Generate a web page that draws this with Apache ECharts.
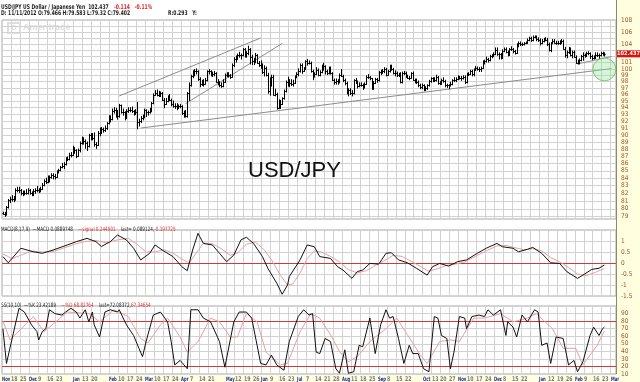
<!DOCTYPE html>
<html><head><meta charset="utf-8">
<script src="https://cdn.jsdelivr.net/npm/echarts/dist/echarts.min.js"></script>
<style>html,body{margin:0;padding:0;background:#fff}#c{width:640px;height:382px}</style>
</head><body><div id="c"></div>
<script>
// ---------- DATA ----------
const firstTradingDay = '2012-11-12';
const slotCount = 343; // weekday slots on the x axis (data + a few empty days)
const weekLabels = ['Nov','18','25','Dec','9','16','23','','Jan','13','20','','Feb','10','17','24','Mar','10','17','24','Apr','7','14','21','','May','12','19','26','Jun','9','16','23','Jul','7','14','21','28','Aug','11','18','25','Sep','8','15','22','','Oct','13','20','27','Nov','10','17','24','Dec','8','15','22','','Jan','12','19','26','Feb','9','16','23','Mar'];
// daily bars [open, high, low, close]
const ohlc = [
[79.47,79.58,79.32,79.40],[79.40,79.55,79.05,79.30],[79.30,80.30,79.20,80.20],[80.20,81.20,80.10,81.10],[81.10,81.50,80.80,81.30],
[81.3,81.7,81.0,81.3],[81.3,81.6,80.9,81.2],[81.2,82.6,81.1,82.4],[82.4,82.8,82.2,82.5],[82.5,82.8,82.1,82.4],
[82.4,82.5,81.8,82.1],[82.1,82.3,81.7,82.0],[82.0,82.3,81.8,82.1],[82.1,82.5,81.9,82.1],[82.1,82.6,81.9,82.4],
[82.4,82.5,81.9,82.0],[82.0,82.2,81.7,81.8],[81.8,82.5,81.7,82.3],[82.3,82.6,82.0,82.4],[82.4,82.9,82.2,82.5],
[82.5,82.6,82.1,82.3],[82.3,82.8,82.2,82.6],[82.6,83.3,82.5,83.1],[83.1,83.8,83.0,83.6],[83.6,84.0,83.3,83.5],
[83.5,84.3,83.4,83.6],[83.6,84.3,83.5,84.2],[84.2,84.6,84.0,84.4],[84.4,84.6,83.9,84.3],[84.3,84.5,83.9,84.2],
[84.2,85.0,84.1,84.8],[84.8,85.2,84.7,85.1],[85.1,85.6,85.0,85.5],[85.5,86.0,85.4,85.6],[85.6,86.1,85.3,85.9],
[85.9,86.8,85.8,86.7],[86.7,86.9,86.4,86.6],[86.6,87.4,86.5,87.2],[87.2,87.5,86.9,87.2],[87.2,88.4,87.1,88.1],
[88.1,88.2,87.4,87.8],[87.8,87.9,86.8,87.1],[87.1,88.0,87.0,87.8],[87.8,89.0,87.6,88.8],[88.8,89.7,88.7,89.2],
[89.2,89.6,88.7,89.1],[89.1,89.3,88.1,88.8],[88.8,89.0,87.8,88.4],[88.4,90.1,88.3,90.0],[90.0,90.2,89.3,90.1],
[90.1,90.2,89.3,89.6],[89.6,90.3,88.4,88.7],[88.7,88.9,88.1,88.6],[88.6,90.5,88.5,90.3],[90.3,91.0,89.9,90.8],
[90.8,91.1,90.2,90.8],[90.8,91.0,90.4,90.7],[90.7,91.3,90.5,91.0],[91.0,91.8,90.8,91.7],[91.7,92.8,91.6,92.7],
[92.7,92.8,91.9,92.3],[92.3,93.8,92.2,93.5],[93.5,94.0,93.2,93.6],[93.6,93.9,92.6,93.6],[93.6,93.6,92.3,92.7],
[92.7,94.5,92.6,94.4],[94.4,94.4,93.2,93.4],[93.4,93.8,92.9,93.3],[93.3,93.4,92.2,92.6],[92.6,93.7,92.4,93.5],
[93.5,94.0,93.3,93.6],[93.6,94.0,93.4,93.6],[93.6,94.1,93.3,93.5],[93.5,93.6,92.9,93.2],[93.2,93.7,93.0,93.4],
[93.4,94.8,90.9,91.9],[91.9,92.3,91.3,92.1],[92.1,92.7,91.8,92.4],[92.4,92.9,92.2,92.6],[92.6,93.8,92.5,93.6],
[93.6,93.7,92.7,93.4],[93.4,93.5,92.9,93.3],[93.3,93.9,93.2,93.5],[93.5,94.8,93.4,94.7],[94.7,96.1,94.6,96.0],
[96.0,96.6,95.9,96.3],[96.3,96.7,95.8,96.0],[96.0,96.5,95.7,96.1],[96.1,96.4,95.7,96.2],[96.2,96.3,95.1,95.2],
[95.2,95.4,94.0,94.6],[94.6,95.4,94.5,95.0],[95.0,95.8,94.9,95.6],[95.6,96.0,95.1,95.2],[95.2,95.3,94.3,94.5],
[94.5,95.0,94.1,94.2],[94.2,94.6,93.9,94.3],[94.3,94.6,93.7,94.0],[94.0,94.4,93.9,94.3],[94.3,94.5,94.0,94.2],
[94.2,94.3,93.0,93.2],[93.2,93.5,92.6,93.3],[93.3,93.6,92.6,92.8],[92.8,96.3,92.6,96.3],[96.3,97.8,95.1,97.5],
[97.5,99.0,97.3,98.9],[98.9,99.7,98.6,99.1],[99.1,99.9,98.9,99.7],[99.7,100.0,99.2,99.6],[99.6,99.7,98.2,98.4],
[98.4,98.6,97.2,97.6],[97.6,98.2,97.4,97.7],[97.7,98.3,97.3,97.7],[97.7,98.5,97.6,98.2],[98.2,99.7,98.1,99.6],
[99.6,99.9,99.2,99.6],[99.6,99.7,98.9,99.2],[99.2,99.5,98.8,99.2],[99.2,99.6,98.9,99.3],[99.3,99.4,97.9,98.0],
[98.0,98.3,97.5,97.8],[97.8,98.0,97.2,97.4],[97.4,97.8,97.1,97.3],[97.3,98.3,97.2,98.0],[98.0,99.2,97.9,99.0],
[99.0,99.4,98.8,99.2],[99.2,99.4,98.7,99.0],[99.0,99.1,98.5,98.8],[98.8,100.8,98.7,100.6],[100.6,101.8,100.4,101.6],
[101.6,102.1,101.1,101.8],[101.8,102.4,101.5,102.3],[102.3,102.7,101.9,102.2],[102.2,102.4,101.6,102.3],[102.3,103.3,102.1,103.2],
[103.2,103.3,101.9,102.3],[102.3,102.8,101.9,102.5],[102.5,103.7,102.3,103.2],[103.2,103.3,100.8,102.0],[102.0,102.2,100.7,101.2],
[101.2,101.7,100.7,101.3],[101.3,102.5,101.0,102.2],[102.2,102.3,100.9,101.0],[101.0,101.2,100.4,100.7],[100.7,101.3,100.1,100.5],
[100.5,100.8,99.3,99.5],[99.5,100.5,98.9,100.1],[100.1,100.3,98.9,99.1],[99.1,99.3,96.2,96.5],[96.5,98.6,95.9,97.5],
[97.5,99.0,97.3,98.7],[98.7,99.0,95.9,96.0],[96.0,96.8,95.8,96.1],[96.1,96.2,93.8,94.0],[94.0,95.2,93.9,94.1],
[94.1,95.1,93.9,94.6],[94.6,95.5,94.5,95.4],[95.4,96.7,95.3,96.6],[96.6,98.1,96.4,97.9],[97.9,98.7,97.3,97.9],
[97.9,98.3,97.2,97.8],[97.8,98.3,97.4,97.6],[97.6,98.2,97.3,97.8],[97.8,98.9,97.7,98.8],[98.8,99.4,98.6,99.2],
[99.2,100.0,98.9,99.6],[99.6,100.8,99.5,100.7],[100.7,100.8,99.3,99.7],[99.7,100.2,99.6,100.1],[100.1,101.3,99.9,101.2],
[101.2,101.5,100.6,100.9],[100.9,101.3,100.8,101.0],[101.0,101.1,99.5,99.6],[99.6,99.8,98.3,98.9],[98.9,99.4,98.7,99.2],
[99.2,100.2,99.1,99.9],[99.9,100.0,98.9,99.1],[99.1,99.7,98.9,99.5],[99.5,100.6,99.4,100.5],[100.5,100.9,99.8,100.5],
[100.5,100.5,99.2,99.6],[99.6,99.8,99.1,99.4],[99.4,100.3,99.2,100.2],[100.2,100.3,99.2,99.3],[99.3,99.4,98.2,98.3],
[98.3,98.4,97.6,97.9],[97.9,98.4,97.6,98.1],[98.1,98.3,97.6,97.9],[97.9,99.2,97.8,99.1],[99.1,99.9,98.8,98.9],
[98.9,99.0,98.0,98.2],[98.2,98.4,97.5,97.8],[97.8,97.9,96.1,96.3],[96.3,96.9,95.8,96.7],[96.7,96.9,96.0,96.2],
[96.2,96.6,95.8,96.2],[96.2,98.3,96.1,98.2],[98.2,98.5,97.7,98.1],[98.1,98.1,97.0,97.3],[97.3,97.8,97.2,97.5],
[97.5,97.8,97.3,97.5],[97.5,97.6,96.8,97.2],[97.2,97.8,97.0,97.7],[97.7,98.9,97.6,98.7],[98.7,99.1,98.5,98.7],
[98.7,98.8,98.3,98.5],[98.5,98.5,96.8,97.0],[97.0,98.0,96.8,97.8],[97.8,98.5,97.7,98.4],[98.4,98.5,97.9,98.2],
[98.2,99.6,98.1,99.5],[99.5,99.8,99.1,99.6],[99.6,99.9,99.3,99.6],[99.6,100.2,99.4,100.0],[100.0,100.1,98.9,99.1],
[99.1,99.8,99.0,99.6],[99.6,100.6,99.5,100.5],[100.5,100.6,99.8,100.0],[100.0,100.1,99.2,99.4],[99.4,99.7,98.9,99.3],
[99.3,99.5,98.8,99.0],[99.0,99.3,98.8,99.1],[99.1,99.4,97.8,97.9],[97.9,99.5,97.8,99.4],[99.4,99.6,99.1,99.4],
[99.4,99.5,98.7,98.8],[98.8,99.0,98.5,98.6],[98.6,98.8,98.3,98.6],[98.6,99.4,98.5,99.3],[99.3,99.5,98.2,98.3],
[98.3,98.4,97.8,98.2],[98.2,98.4,97.7,98.0],[98.0,98.1,97.2,97.5],[97.5,97.6,96.9,97.1],[97.1,97.6,96.9,97.5],
[97.5,97.5,96.6,96.9],[96.9,97.2,96.6,97.0],[97.0,97.5,96.8,97.4],[97.4,98.2,97.3,98.1],[98.1,98.6,97.9,98.5],
[98.5,98.6,98.0,98.4],[98.4,98.6,98.0,98.2],[98.2,99.0,98.1,98.7],[98.7,98.8,97.6,97.8],[97.8,98.0,97.6,97.7],
[97.7,98.4,97.6,98.2],[98.2,98.6,97.9,98.1],[98.1,98.2,97.2,97.4],[97.4,97.6,97.1,97.4],[97.4,97.5,96.9,97.4],
[97.4,97.9,97.3,97.6],[97.6,98.3,97.5,98.2],[98.2,98.6,98.0,98.3],[98.3,98.6,98.0,98.4],[98.4,98.9,98.3,98.7],
[98.7,98.8,98.4,98.6],[98.6,98.8,98.2,98.6],[98.6,98.9,98.4,98.7],[98.7,98.9,97.7,97.9],[97.9,99.3,97.8,99.1],
[99.1,99.4,99.0,99.2],[99.2,99.8,99.1,99.6],[99.6,99.8,98.9,99.2],[99.2,100.0,98.9,99.9],[99.9,100.4,99.8,100.2],
[100.2,100.3,99.8,100.0],[100.0,100.2,99.6,100.0],[100.0,100.3,99.6,100.2],[100.2,101.3,100.1,101.1],[101.1,101.4,100.8,101.3],
[101.3,101.9,101.1,101.6],[101.6,101.7,101.1,101.4],[101.4,102.2,101.3,102.1],[102.1,102.3,101.8,102.1],[102.1,102.6,102.0,102.4],
[102.4,103.4,102.3,103.0],[103.0,103.4,102.2,102.4],[102.4,102.6,101.6,102.4],[102.4,102.5,101.6,101.8],[101.8,103.1,101.7,102.9],
[102.9,103.4,102.8,103.2],[103.2,103.4,102.6,102.8],[102.8,102.9,102.1,102.3],[102.3,103.3,102.2,103.2],[103.2,103.6,103.0,103.2],
[103.2,103.3,102.6,102.9],[102.9,103.0,102.4,102.6],[102.6,104.1,102.5,103.9],[103.9,104.4,103.6,104.3],[104.3,104.4,103.8,104.1],
[104.1,104.2,103.8,104.0],[104.0,104.3,103.9,104.2],[104.2,104.4,104.1,104.3],[104.3,104.9,104.2,104.8],[104.8,105.2,104.6,105.1],
[105.1,105.2,104.5,104.7],[104.7,105.4,104.6,105.3],[105.3,105.4,105.1,105.2],[105.2,105.4,104.6,104.9],[104.9,105.1,104.5,104.8],
[104.8,104.9,103.9,104.2],[104.2,104.8,104.1,104.6],[104.6,105.0,104.4,104.9],[104.9,105.1,104.6,104.8],[104.8,105.0,103.8,104.1],
[104.1,104.2,102.9,103.0],[103.0,104.3,102.8,104.2],[104.2,104.8,104.1,104.6],[104.6,104.8,104.2,104.3],[104.3,104.5,104.0,104.3],
[104.3,104.5,104.0,104.2],[104.2,104.6,104.0,104.3],[104.3,104.8,104.2,104.6],[104.6,104.7,103.2,103.3],[103.3,103.5,101.9,102.3],
[102.3,102.9,101.8,102.7],[102.7,103.5,102.5,103.4],[103.4,103.4,102.1,102.3],[102.3,102.9,101.8,102.8],[102.8,102.9,101.9,102.0],
[102.0,102.1,100.9,101.0],[101.0,101.4,100.8,101.1],[101.1,101.6,100.8,101.4],[101.4,102.2,101.3,102.1],[102.1,102.6,101.4,102.3],
[102.3,102.4,101.9,102.2],[102.2,102.7,102.0,102.6],[102.6,102.8,102.3,102.5],[102.5,102.6,101.7,102.1],[102.1,102.2,101.5,101.8],
[101.8,102.1,101.6,101.8],[101.8,102.6,101.7,102.3],[102.3,102.6,102.0,102.3],[102.3,102.4,101.7,102.3],[102.3,102.7,102.1,102.5],
[102.5,102.7,102.2,102.5],[102.5,102.6,102.1,102.44]
];
// indicator readings [day index, value]
const macdLine = [[0,0.29],[3,0.01],[10,0.67],[17,0.51],[22,0.44],[28,0.59],[36,0.82],[41,0.97],[47,1.12],[52,0.97],[55,0.75],[60,0.97],[64,1.27],[69,1.05],[73,0.67],[77,0.14],[78,0.06],[82,0.44],[85,0.82],[89,0.59],[95,0.29],[100,-0.17],[103,-0.35],[106,0.59],[109,1.35],[112,0.89],[117,0.82],[121,0.44],[125,0.06],[129,0.36],[133,1.05],[136,1.17],[140,0.89],[145,0.29],[148,-0.24],[153,-0.92],[156,-1.42],[157,-1.5],[159,-1.0],[160,-0.62],[166,0.14],[170,0.82],[174,0.74],[177,0.29],[183,0.21],[187,-0.17],[190,-0.32],[195,-0.70],[198,-0.39],[201,-0.32],[205,-0.02],[210,-0.05],[214,0.44],[217,0.47],[221,0.14],[226,0.01],[231,-0.24],[237,-0.55],[240,-0.17],[244,-0.02],[249,-0.14],[254,0.06],[259,0.14],[265,0.44],[270,0.67],[276,0.89],[279,0.74],[285,0.67],[288,0.51],[293,0.62],[296,0.71],[301,0.44],[306,0.01],[311,-0.02],[315,-0.39],[321,-0.70],[324,-0.55],[329,-0.29],[333,-0.24],[336,-0.09]];
const macdSignal = [[0,0.42],[5,0.2],[10,0.35],[16,0.55],[22,0.5],[28,0.52],[34,0.68],[40,0.85],[46,0.98],[52,1.02],[58,0.92],[64,1.05],[70,1.12],[75,0.85],[80,0.5],[85,0.5],[90,0.6],[95,0.45],[100,0.18],[104,0.0],[108,0.45],[112,0.9],[117,0.88],[122,0.65],[127,0.35],[131,0.45],[136,0.85],[141,0.95],[146,0.6],[150,0.15],[155,-0.55],[159,-1.0],[162,-0.95],[166,-0.45],[170,0.2],[174,0.55],[178,0.5],[183,0.3],[188,0.05],[193,-0.3],[198,-0.45],[203,-0.35],[208,-0.12],[213,0.1],[218,0.35],[223,0.3],[228,0.08],[233,-0.15],[238,-0.38],[243,-0.25],[248,-0.1],[253,-0.05],[258,0.05],[264,0.3],[270,0.55],[276,0.78],[281,0.8],[286,0.7],[291,0.6],[296,0.65],[301,0.55],[306,0.25],[311,0.05],[316,-0.2],[321,-0.5],[326,-0.58],[331,-0.42],[336,-0.25]];
const stochK = [[0,70],[2,24],[9,97],[12,92],[16,75],[19,66],[20,55],[22,66],[24,70],[26,95],[29,90],[33,88],[35,92],[38,97],[41,92],[43,84],[46,95],[48,79],[50,92],[51,75],[54,59],[57,92],[60,95],[64,92],[65,95],[69,75],[73,61],[76,44],[78,33],[80,53],[84,88],[88,92],[92,79],[94,53],[96,22],[99,28],[103,17],[105,95],[109,95],[112,84],[116,79],[121,53],[124,19],[129,79],[132,92],[136,92],[139,84],[142,48],[144,24],[147,22],[150,35],[153,22],[157,15],[160,53],[165,86],[168,95],[171,88],[173,90],[175,39],[177,37],[180,57],[183,53],[186,17],[188,11],[191,42],[193,11],[196,13],[199,48],[201,46],[205,84],[208,37],[211,75],[214,95],[216,84],[218,86],[221,57],[224,24],[227,48],[229,37],[232,37],[235,17],[238,13],[241,86],[243,84],[245,61],[248,57],[250,17],[252,39],[255,86],[258,84],[259,70],[262,86],[266,88],[269,86],[271,95],[274,88],[278,95],[281,61],[282,79],[285,72],[287,59],[290,88],[293,79],[297,95],[299,92],[301,48],[304,51],[306,24],[309,59],[313,57],[316,22],[319,28],[321,13],[324,26],[328,61],[330,72],[333,61],[335,70],[336,72]];
const stochD = [[0,80],[4,55],[17,86],[23,66],[36,92],[48,90],[54,79],[62,95],[70,86],[77,57],[81,51],[88,75],[92,84],[99,59],[103,39],[109,53],[116,84],[121,79],[127,59],[131,59],[136,90],[142,79],[147,39],[155,22],[159,24],[166,66],[172,90],[177,84],[183,62],[188,40],[193,26],[198,33],[205,53],[214,70],[220,84],[226,62],[233,36],[237,24],[244,53],[250,55],[255,53],[263,84],[269,84],[278,90],[285,79],[293,84],[298,90],[307,70],[313,44],[320,44],[324,22],[332,48],[336,67]];
const priceGridLevels = [79,80,81,82,83,84,85,86,87,88,89,90,91,92,93,94,95,96,97,98,99,100,101,102,103,104,105,106,107,108];
const priceLabelHidden = [102,103,105,107];
const lastPrice = 102.437;
// drawn trend lines: [[dayIndex, price], [dayIndex, price]]
const trendLines = [
  [[65,95.78],[144,105.06]],
  [[102,94.6],[156,104.15]],
  [[77,91.0],[340,100.06]],
  [[321,100.8],[340,102.0]]
];
const circleMark = [336, 99.93];
const macdTicks = {min:-1.5, max:1.5, step:0.5};
const stochTicks = {min:10, max:100, step:10};
const stochBands = [80,20];

// ---------- BUILD ----------
const categories = [];
(function(){
  const p = firstTradingDay.split('-').map(Number);
  const d = new Date(Date.UTC(p[0], p[1]-1, p[2]));
  while (categories.length < slotCount) {
    const wd = d.getUTCDay();
    if (wd > 0 && wd < 6) categories.push(d.toISOString().slice(0,10));
    d.setUTCDate(d.getUTCDate()+1);
  }
})();
const barData = ohlc.map((b,i)=>[i,b[0],b[1],b[2],b[3]]);
const tickLabelData = weekLabels.map((w,k)=>[k*5, stochTicks.min]);

const FONT_C = '"DejaVu Sans Condensed","Liberation Sans",sans-serif';
const AX_COLOR = '#a0522d';
const GRID_COLOR = '#d2d2d2';

const gridItems = priceGridLevels.map(v => ({
  yAxis: v,
  label: {show: priceLabelHidden.indexOf(v) < 0}
}));

function xAxisFor(k){
  return {
    type:'category', gridIndex:k, data:categories, boundaryGap:true,
    axisLine:{show:false}, axisTick:{show:false}, axisLabel:{show:false},
    splitLine:{show:true, interval:(i)=> i%5===0, lineStyle:{color:GRID_COLOR, width:1}}
  };
}

const chart = echarts.init(document.getElementById('c'), null, {renderer:'canvas'});
const headerScale = 0.77;
const option = {
  animation:false,
  backgroundColor:'#fff',
  grid:[
    {left:2, right:24, top:20, height:199, show:true, borderColor:'#a8a8a8', borderWidth:1, containLabel:false, outerBoundsMode:'none'},
    {left:2, right:24, top:230, height:66, show:true, borderColor:'#a8a8a8', borderWidth:1, containLabel:false, outerBoundsMode:'none'},
    {left:2, right:24, top:306, height:68, show:true, borderColor:'#a8a8a8', borderWidth:1, containLabel:false, outerBoundsMode:'none'}
  ],
  xAxis:[ xAxisFor(0), xAxisFor(1), xAxisFor(2) ],
  yAxis:[
    {type:'log', gridIndex:0, position:'right', min:78.71, max:108.12, axisLine:{show:false}, axisTick:{show:false}, axisLabel:{show:false}, splitLine:{show:false}},
    {type:'value', gridIndex:1, position:'right', min:macdTicks.min, max:macdTicks.max, interval:macdTicks.step, axisLine:{show:false}, axisTick:{show:false},
      axisLabel:{color:AX_COLOR, fontSize:6.5, margin:5, showMaxLabel:false, fontFamily:FONT_C}, splitLine:{lineStyle:{color:GRID_COLOR}}},
    {type:'value', gridIndex:2, position:'right', min:stochTicks.min, max:stochTicks.max, interval:stochTicks.step, axisLine:{show:false}, axisTick:{show:false},
      axisLabel:{color:AX_COLOR, fontSize:6.5, margin:5, showMaxLabel:false, fontFamily:FONT_C}, splitLine:{lineStyle:{color:GRID_COLOR}}}
  ],
  series:[
    { type:'line', name:'grid', xAxisIndex:0, yAxisIndex:0, data:[], silent:true,
      markLine:{ silent:true, z:1, symbol:['none','none'], animation:false,
        lineStyle:{color:GRID_COLOR, width:1, type:'solid'},
        label:{show:true, position:'end', distance:5, color:AX_COLOR, fontSize:6.5, fontFamily:FONT_C, formatter:(p)=>String(p.value)},
        emphasis:{disabled:true},
        data: gridItems } },
    { type:'line', name:'trend', xAxisIndex:0, yAxisIndex:0, data:[], silent:true,
      markLine:{ silent:true, z:2, symbol:['none','none'], animation:false,
        lineStyle:{color:'#8c8c8c', width:1, type:'solid'}, label:{show:false}, emphasis:{disabled:true},
        data: trendLines.map(t=>[{coord:t[0]},{coord:t[1]}]) } },
    { type:'custom', name:'USD/JPY', xAxisIndex:0, yAxisIndex:0, z:3, clip:true, data:barData,
      encode:{x:0, y:[1,2,3,4]},
      renderItem:(params, api)=>{
        const i = api.value(0);
        const pO = api.coord([i, api.value(1)]);
        const pH = api.coord([i, api.value(2)]);
        const pL = api.coord([i, api.value(3)]);
        const pC = api.coord([i, api.value(4)]);
        const x = Math.round(pH[0]) + 0.5;
        const st = {stroke:'#000', lineWidth:1};
        const yo = Math.round(pO[1]) + 0.5, yc = Math.round(pC[1]) + 0.5;
        return {type:'group', children:[
          {type:'line', shape:{x1:x, y1:pH[1]-0.5, x2:x, y2:pL[1]+0.5}, style:st},
          {type:'line', shape:{x1:x-1.2, y1:yo, x2:x, y2:yo}, style:st},
          {type:'line', shape:{x1:x, y1:yc, x2:x+1.2, y2:yc}, style:st}
        ]};
      } },
    { type:'scatter', name:'mark', xAxisIndex:0, yAxisIndex:0, z:4, silent:true, data:[circleMark], symbolSize:23,
      itemStyle:{color:'rgba(150,228,150,0.45)', borderColor:'#66bb66', borderWidth:1} },
    { type:'line', name:'lastTag', xAxisIndex:0, yAxisIndex:0, data:[], silent:true, z:20,
      markLine:{ silent:true, z:20, symbol:['none','none'], animation:false,
        lineStyle:{color:'rgba(0,0,0,0)', width:1, type:'solid'}, emphasis:{disabled:true},
        label:{show:true, position:'end', distance:0, formatter:String(lastPrice), color:'#fff', backgroundColor:'#e01010', fontWeight:'bold', padding:[1,1,0,1], fontSize:5.6, fontFamily:FONT_C},
        data:[{yAxis:lastPrice}] } },
    { type:'line', name:'MACD', xAxisIndex:1, yAxisIndex:1, data:macdLine, showSymbol:false, z:3,
      lineStyle:{color:'#111', width:1}, itemStyle:{color:'#111'},
      markLine:{silent:true, symbol:['none','none'], z:2, lineStyle:{color:'#cc3a3a', width:1, type:'solid'}, label:{show:false}, data:[{yAxis:0}]} },
    { type:'line', name:'signal', xAxisIndex:1, yAxisIndex:1, data:macdSignal, showSymbol:false, z:2,
      lineStyle:{color:'#e9a0a0', width:1}, itemStyle:{color:'#e9a0a0'} },
    { type:'line', name:'%K', xAxisIndex:2, yAxisIndex:2, data:stochK, showSymbol:false, z:3,
      lineStyle:{color:'#111', width:1}, itemStyle:{color:'#111'},
      markLine:{silent:true, symbol:['none','none'], z:2, lineStyle:{color:'#cc3a3a', width:1, type:'solid'}, label:{show:false}, data:stochBands.map(v=>({yAxis:v}))} },
    { type:'line', name:'%D', xAxisIndex:2, yAxisIndex:2, data:stochD, showSymbol:false, z:2,
      lineStyle:{color:'#e9a0a0', width:1}, itemStyle:{color:'#e9a0a0'} },
    // week / month tick labels under the bottom panel, placed through the category scale
    { type:'custom', name:'xLabels', xAxisIndex:2, yAxisIndex:2, z:10, clip:false, silent:true, data:tickLabelData,
      encode:{x:0, y:1},
      renderItem:(params, api)=>{
        const w = weekLabels[params.dataIndex];
        if (!w) return null;
        const p = api.coord([api.value(0), api.value(1)]);
        const isMonth = /^[A-Z]/.test(w);
        return {type:'text', x:Math.round(p[0]) - 1, y:p[1] + 2, scaleX: isMonth ? 0.7 : 0.8,
          style:{text:w, fontSize: isMonth ? 6 : 6.5, fontWeight:'bold', fontFamily:FONT_C, fill: isMonth ? '#1f2aa0' : '#7a7a7a', textAlign:'left', textVerticalAlign:'top'}};
      } }
  ],
  graphic:[
    {type:'rect', z:-100, silent:true, shape:{x:616, y:0, width:24, height:382}, style:{fill:'#ffffe0'}},
    {type:'rect', z:-100, silent:true, shape:{x:0, y:375, width:616, height:7}, style:{fill:'#ffffe0'}},
    {type:'line', z:50, silent:true, shape:{x1:616.5, y1:0, x2:616.5, y2:374}, style:{stroke:'#8a8a70', lineWidth:1}},
    {type:'rect', z:1, silent:true, shape:{x:8, y:23, width:12, height:10}, style:{fill:'none', stroke:'#dedede', lineWidth:2}},
    {type:'text', z:1, silent:true, x:11, y:24, style:{text:'D', fontSize:8, fontWeight:'bold', fontFamily:'Liberation Sans', fill:'#dedede'}},
    {type:'text', z:1, silent:true, x:23, y:23, style:{text:'Ameritrade', fontSize:9, fontWeight:'bold', fontFamily:'Liberation Sans', fill:'#dcdcdc'}},
    {type:'text', z:60, silent:true, x:1, y:1, scaleX:headerScale, style:{
      text:'{k|USD/JPY US Dollar / Japanese Yen  102.437}  {r|-0.114   -0.11%}',
      rich:{k:{fill:'#222', fontSize:6.5, fontWeight:'bold', fontFamily:FONT_C}, r:{fill:'#e02020', fontSize:6.5, fontWeight:'bold', fontFamily:FONT_C}}}},
    {type:'text', z:60, silent:true, x:1, y:10, scaleX:headerScale, style:{text:'D: 11/11/2012 O:79.466 H:79.583 L:79.32 C:79.402', fontSize:6.5, fontWeight:'bold', fontFamily:FONT_C, fill:'#222'}},
    {type:'text', z:60, silent:true, x:168, y:10, scaleX:headerScale, style:{text:'R:0.293   Y:', fontSize:6.5, fontWeight:'bold', fontFamily:FONT_C, fill:'#222'}},
    {type:'text', z:60, silent:true, x:248, y:160, style:{text:'USD/JPY', fontSize:22, fontFamily:'Liberation Sans', fill:'#111'}},
    {type:'text', z:60, silent:true, x:1, y:223, scaleX:headerScale, style:{
      text:'{k|MACD(8,17,9)  —MACD 0.0889748}  {r|—signal 0.244901}  {k|last= 0.089124,}{r|-0.197725}',
      rich:{k:{fill:'#222', fontSize:6, fontFamily:FONT_C}, r:{fill:'#e03030', fontSize:6, fontFamily:FONT_C}}}},
    {type:'text', z:60, silent:true, x:1, y:299, scaleX:headerScale, style:{
      text:'{k|SS(10,10)  —%K 23.42189}  {r|—%D 68.82764}  {k|last=72.08372,}{r|67.34654}',
      rich:{k:{fill:'#222', fontSize:6, fontFamily:FONT_C}, r:{fill:'#e03030', fontSize:6, fontFamily:FONT_C}}}}
  ]
};
chart.setOption(option);
</script>
</body></html>
